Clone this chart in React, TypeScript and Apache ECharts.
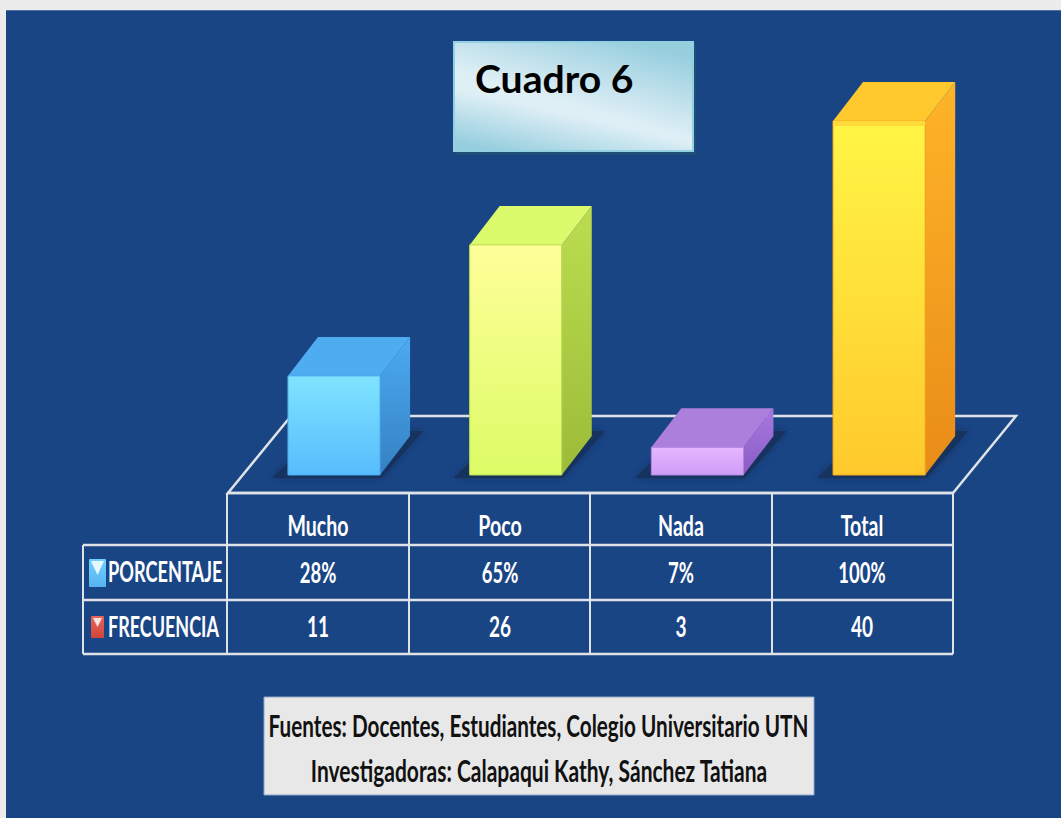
import React, { useEffect, useRef } from "react";
import * as echarts from "echarts";

const categories = ["Mucho", "Poco", "Nada", "Total"];
const porcentajeValues = [28, 65, 7, 100];
const porcentajeLabels = ["28%", "65%", "7%", "100%"];
const frecuenciaLabels = ["11", "26", "3", "40"];
const rowNames = ["PORCENTAJE", "FRECUENCIA"];
const titleText = "Cuadro 6";
const sourceLines = [
  "Fuentes: Docentes, Estudiantes, Colegio Universitario UTN",
  "Investigadoras: Calapaqui Kathy, Sánchez Tatiana",
];

const palette = [
  { front: ["#80e4ff", "#56bcfc"], top: "#4eacf0", side: ["#4cabf0", "#3580c4"], lip: "", edge: "#4aa8ea", bevel: 0 },
  { front: ["#ffff99", "#dcfb66"], top: "#dbfa6c", side: ["#bcdc50", "#9cbc38"], lip: "", edge: "#bcdc50", bevel: 0 },
  { front: ["#e6b6ff", "#cf9cf6"], top: "#ad7fdc", side: ["#a878de", "#8a5cc4"], lip: "", edge: "#b285e0", bevel: 3 },
  { front: ["#fff545", "#ffc92c"], top: "#ffc92e", side: ["#ffb428", "#e88c18"], lip: "#ffd83a", edge: "#f4a820", bevel: 0 },
];

const BLUE = "#1a4585";
const LINE = "#dfe3e8";
const DX = 30;
const DY = -39;

const vGrad = (a: string, b: string) => ({
  type: "linear", x: 0, y: 0, x2: 0, y2: 1,
  colorStops: [{ offset: 0, color: a }, { offset: 1, color: b }],
});

const hLine = (x1: number, x2: number, y: number) => ({
  type: "line", shape: { x1, y1: y, x2, y2: y }, style: { stroke: LINE, lineWidth: 2.5 },
});
const vLine = (x: number, y1: number, y2: number) => ({
  type: "line", shape: { x1: x, y1, x2: x, y2 }, style: { stroke: LINE, lineWidth: 2 },
});

const label = (
  text: string, x: number, y: number, size: number, scaleX: number,
  fill = "#ffffff", align = "center", family = "Lato", weight: any = "bold",
) => ({
  type: "text", x, y, scaleX,
  style: { text, fill, font: `${weight} ${size}px ${family}`, textAlign: align, textVerticalAlign: "middle" },
});

const columnCenters = [318, 500, 681, 862];
const columnEdges = [227, 409, 590, 772, 953];

function renderBar(params: any, api: any) {
  const i = params.dataIndex;
  const c = palette[i];
  const top = api.coord([api.value(0), api.value(1)]);
  const base = api.coord([api.value(0), 0]);
  const w = api.size([1, 0])[0] * 0.507;
  const l = top[0] - w / 2;
  const r = top[0] + w / 2;
  const t = top[1] - c.bevel;
  const b = base[1];
  const poly = (points: number[][], fill: any, extra: any = {}) => ({
    type: "polygon", shape: { points }, style: { fill, ...extra },
  });
  return {
    type: "group",
    children: [
      poly(
        [[l - 16, b + 3], [r + 1, b + 3], [r + DX + 13, b + DY - 5], [r + DX - 6, b + DY - 5], [r, b - 20], [l, b - 12]],
        "#14305f",
        { shadowBlur: 7, shadowColor: "#14305f" },
      ),
      poly([[r, t], [r + DX, t + DY], [r + DX, b + DY], [r, b]], vGrad(c.side[0], c.side[1])),
      poly([[l, t], [l + DX, t + DY], [r + DX, t + DY], [r, t]], c.top),
      {
        type: "rect",
        shape: { x: l, y: t, width: r - l, height: b - t },
        style: { fill: vGrad(c.front[0], c.front[1]), stroke: c.edge, lineWidth: 1 },
      },
      ...(c.lip
        ? [{ type: "rect", shape: { x: l, y: t, width: r - l, height: 5 }, style: { fill: c.lip } }]
        : []),
    ],
  };
}

export default function App() {
  const ref = useRef<HTMLDivElement>(null);
  useEffect(() => {
    const chart = echarts.init(ref.current!, undefined, { renderer: "svg" });
    const elements: any[] = [
      { type: "rect", shape: { x: 0, y: 0, width: 1061, height: 818 }, style: { fill: "#ececec" } },
      { type: "rect", shape: { x: 6, y: 10, width: 1055, height: 808 }, style: { fill: BLUE } },
      { type: "rect", shape: { x: 6, y: 10, width: 1055, height: 1 }, style: { fill: "#51719f" } },
      {
        type: "polygon",
        shape: { points: [[228, 493], [953, 493], [1016, 416], [291, 416]] },
        style: { fill: BLUE, stroke: LINE, lineWidth: 2.5 },
      },
      { type: "rect", shape: { x: 456, y: 44, width: 240, height: 111 }, style: { fill: "#1f4f75" } },
      {
        type: "rect",
        shape: { x: 454, y: 42, width: 239, height: 109 },
        style: { fill: "#dfeff6", stroke: "#93d0e2", lineWidth: 2 },
      },
      {
        type: "rect",
        shape: { x: 455, y: 43, width: 237, height: 107 },
        style: {
          fill: {
            type: "linear", x: 0.95, y: 0.1, x2: 0.6, y2: 0.65,
            colorStops: [
              { offset: 0, color: "rgba(150,206,222,1)" },
              { offset: 1, color: "rgba(150,206,222,0)" },
            ],
          },
        },
      },
      {
        type: "rect",
        shape: { x: 455, y: 43, width: 237, height: 107 },
        style: {
          fill: {
            type: "linear", x: 0.05, y: 0.95, x2: 0.25, y2: 0.55,
            colorStops: [
              { offset: 0, color: "rgba(150,206,222,1)" },
              { offset: 1, color: "rgba(150,206,222,0)" },
            ],
          },
        },
      },
      label(titleText, 475, 78, 38, 1.03, "#000000", "left"),
      hLine(227, 953, 493),
      hLine(83, 953, 545),
      hLine(83, 953, 600),
      hLine(83, 953, 654),
      vLine(83, 545, 654),
      ...columnEdges.map((x) => vLine(x, 493, 654)),
      {
        type: "rect",
        shape: { x: 89, y: 559, width: 17, height: 28, r: 1 },
        style: { fill: vGrad("#6fd0ff", "#58b4f0") },
      },
      { type: "polygon", shape: { points: [[91, 561], [104, 561], [97.5, 575]] }, style: { fill: "#e8f8ff" } },
      {
        type: "rect",
        shape: { x: 91, y: 616, width: 13, height: 22, r: 1 },
        style: { fill: vGrad("#e8655a", "#d0443c") },
      },
      { type: "polygon", shape: { points: [[93, 618], [102, 618], [97.5, 627]] }, style: { fill: "#fbe4e0" } },
      label(rowNames[0], 108, 571, 29, 0.627, "#ffffff", "left"),
      label(rowNames[1], 108, 626, 29, 0.62, "#ffffff", "left"),
      ...categories.map((c, i) => label(c, columnCenters[i], 525, 28, 0.7)),
      ...porcentajeLabels.map((c, i) => label(c, columnCenters[i], 572, 28, 0.66)),
      ...frecuenciaLabels.map((c, i) => label(c, columnCenters[i], 626, 28, 0.68)),
      {
        type: "rect",
        shape: { x: 264, y: 697, width: 550, height: 98 },
        style: { fill: "#e8e8e8", stroke: "#8ea6c6", lineWidth: 1 },
      },
      label(sourceLines[0], 538.5, 725, 30, 0.69, "#111111"),
      label(sourceLines[1], 539, 770, 30, 0.7, "#111111"),
    ];
    chart.setOption({
      animation: false,
      backgroundColor: "#ececec",
      grid: { left: 243.15, width: 726.8, top: 121, height: 354 },
      xAxis: { type: "category", data: categories, show: false },
      yAxis: { type: "value", min: 0, max: 100, show: false },
      graphic: { elements },
      series: [
        {
          name: "PORCENTAJE",
          type: "custom",
          z: 5,
          renderItem: renderBar,
          encode: { x: 0, y: 1 },
          data: porcentajeValues.map((v, i) => [i, v]),
        },
      ],
    });
    return () => chart.dispose();
  }, []);
  return <div ref={ref} style={{ position: "absolute", left: 0, top: 0, width: 1061, height: 818 }} />;
}
